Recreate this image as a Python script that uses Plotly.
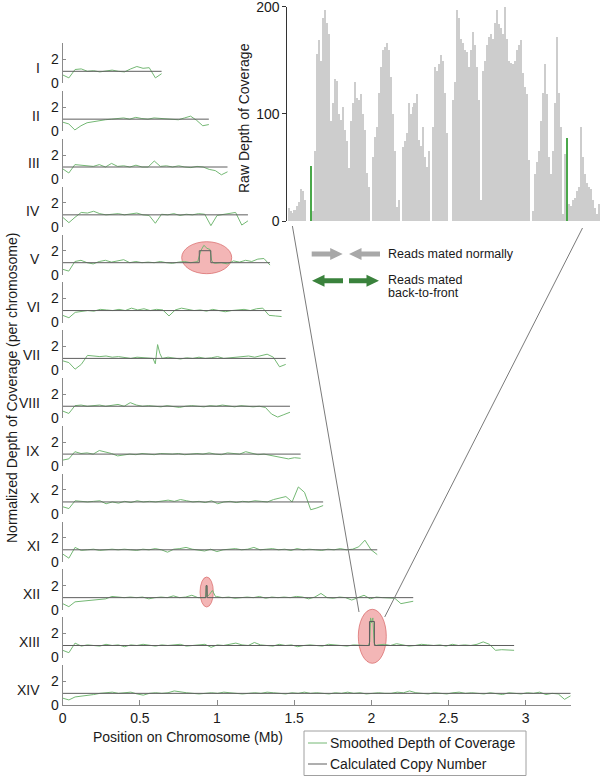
import numpy as np
import plotly.graph_objects as go

W, H = 600, 776
FONT = "Liberation Sans, Arial, sans-serif"


def fx(px):
    return px / W


def fy(py):
    return 1 - py / H


# ---------------- data: chromosomes ----------------
chrom_names = ["I", "II", "III", "IV", "V", "VI", "VII", "VIII", "IX", "X",
               "XI", "XII", "XIII", "XIV"]
chrom_lengths = [0.640851, 0.947102, 1.067971, 1.200490, 1.343557, 1.418242,
                 1.445207, 1.472805, 1.541735, 1.687656, 2.038340, 2.271494,
                 2.925236, 3.291936]

depth_I = [0.7, 0.45, 1.15, 1.2, 1.0, 1.05, 0.95, 1.0, 1.1, 1.0, 0.95, 1.2, 1.4,
           1.25, 1.3, 0.45, 0.8]
depth_II = [0.75, 0.6, 0.1, 0.45, 0.7, 0.8, 0.85, 0.95, 1.0, 1.05, 1.1, 1.0, 1.15,
            1.05, 1.0, 1.1, 1.05, 1.0, 1.0, 0.95, 1.1, 1.25, 0.9, 0.45, 0.55]
depth_III = [0.85, 0.5, 1.2, 1.15, 1.1, 1.05, 1.2, 1.0, 1.3, 1.05, 1.1, 1.0, 1.15,
             1.0, 1.0, 1.5, 1.05, 1.1, 1.0, 1.1, 1.0, 0.95, 1.05, 1.0, 0.8, 0.7,
             0.35, 0.6]
depth_IV = [0.8, 0.35, 0.8, 1.2, 1.15, 1.3, 1.1, 1.0, 1.05, 1.1, 1.0, 1.05, 1.15,
            1.0, 0.95, 0.3, 1.05, 1.0, 1.1, 0.95, 1.05, 1.0, 1.1, 1.05, 0.1, 0.95,
            1.05, 1.1, 1.2, 0.15, 0.5]
depth_V = [0.45, 0.3, 1.1, 1.2, 1.0, 0.9, 1.1, 1.2, 1.05, 1.15, 1.25, 1.0, 1.1,
           1.0, 1.05, 1.0, 1.1, 1.0, 0.95, 1.05, 1.1, 1.0, 1.05, 2.2, 2.1, 0.95,
           1.0, 0.9, 1.15, 1.05, 1.2, 1.1, 1.3, 1.35, 0.8]
depth_VI = [0.6, 0.4, 0.85, 0.9, 1.0, 0.95, 1.1, 1.05, 1.0, 1.1, 1.0, 1.2, 1.05,
            1.15, 1.0, 1.1, 1.05, 0.55, 1.05, 1.2, 1.1, 1.0, 1.05, 0.95, 1.1, 1.0,
            0.9, 1.0, 1.05, 1.1, 1.0, 1.15, 1.2, 0.6, 0.55, 0.5]
depth_VII = [0.8, 0.65, 0.1, 0.5, 1.25, 1.2, 1.15, 1.2, 1.1, 1.15, 1.05, 1.0, 1.1,
             1.05, 1.0, 0.9, 1.05, 1.1, 1.0, 0.95, 1.05, 1.0, 1.1, 1.0, 1.05, 1.15,
             1.0, 1.05, 1.1, 1.15, 1.2, 1.1, 1.25, 1.35, 1.1, 0.3, 0.5]
depth_VIII = [0.6, 0.4, 1.05, 1.1, 1.0, 1.05, 1.1, 1.0, 1.05, 1.15, 1.0, 1.3, 1.1,
              1.0, 1.05, 1.0, 0.95, 1.05, 1.0, 0.9, 1.0, 1.05, 1.0, 0.95, 1.05, 1.0,
              1.1, 1.0, 0.95, 1.05, 1.0, 0.95, 1.0, 0.9, 0.35, 0.1, 0.3, 0.5]
depth_IX = [0.5, 0.6, 1.2, 1.05, 1.1, 1.0, 1.3, 1.2, 1.05, 0.85, 0.9, 1.0, 0.95,
            1.05, 1.0, 0.95, 1.05, 1.0, 1.0, 1.05, 0.95, 1.0, 1.05, 1.0, 1.1, 1.0,
            0.95, 1.1, 1.05, 1.0, 1.2, 1.05, 0.95, 1.0, 0.9, 0.75, 0.65, 0.6, 0.7,
            0.65]
depth_X = [0.6, 0.45, 1.1, 1.05, 1.0, 1.05, 1.1, 0.85, 1.0, 0.9, 1.05, 0.95, 1.1,
           1.0, 1.05, 1.0, 1.1, 1.15, 1.05, 1.2, 1.1, 1.0, 1.05, 0.95, 1.1, 0.85,
           1.0, 1.05, 0.95, 1.05, 1.0, 1.1, 1.05, 1.0, 1.2, 1.3, 1.45, 1.0, 2.25,
           1.8, 0.35, 0.5, 0.7]
depth_XI = [0.65, 0.3, 1.2, 0.95, 1.0, 1.05, 0.95, 1.0, 1.05, 1.0, 1.05, 1.0, 0.95,
            1.05, 1.0, 1.1, 1.0, 0.8, 1.05, 1.1, 1.2, 1.05, 1.0, 0.9, 1.05, 0.85,
            1.0, 1.05, 1.1, 1.0, 1.05, 1.2, 1.0, 1.05, 1.1, 1.0, 1.05, 0.95, 1.1,
            1.0, 1.05, 1.0, 0.95, 1.05, 1.0, 1.1, 1.0, 1.05, 1.25, 1.8, 1.0, 0.6]
depth_XII = [0.5, 0.25, 0.65, 0.7, 0.75, 0.75, 0.85, 0.9, 1.1, 1.05, 1.0, 1.05,
             1.0, 1.05, 0.9, 1.0, 1.05, 1.0, 1.15, 1.0, 1.05, 1.2, 1.0, 1.0, 1.6,
             1.1, 1.0, 1.05, 0.95, 1.0, 1.05, 1.0, 1.1, 0.95, 1.05, 1.0, 1.05, 1.0,
             1.1, 1.05, 0.9, 1.05, 1.35, 1.0, 0.95, 1.05, 1.0, 0.8, 1.0, 1.2, 0.9,
             1.05, 1.0, 0.95, 0.95, 0.5, 0.6, 0.7]
depth_XIII = [0.6, 0.4, 1.2, 0.95, 1.05, 1.0, 0.95, 1.1, 1.0, 1.05, 0.9, 1.05, 1.0,
              1.1, 1.0, 0.95, 1.05, 1.0, 1.05, 1.1, 0.95, 1.0, 1.05, 1.1, 0.85,
              1.05, 1.0, 1.1, 1.2, 1.05, 1.0, 1.25, 1.05, 1.0, 0.95, 1.1, 1.0, 1.05,
              0.9, 1.0, 1.05, 1.0, 0.95, 1.1, 1.05, 1.0, 0.95, 1.05, 1.0, 1.0, 1.0,
              1.05, 1.1, 1.0, 1.15, 1.05, 0.95, 1.0, 1.1, 1.05, 1.0, 1.05, 0.95, 1.1,
              1.0, 1.05, 1.0, 1.1, 1.3, 1.1, 0.6, 0.65, 0.6, 0.6]
depth_XIV = [0.6, 0.45, 0.7, 0.75, 0.85, 0.9, 1.0, 1.05, 1.1, 1.0, 1.05, 1.1, 0.95,
             0.85, 1.0, 1.05, 1.0, 1.05, 1.2, 1.1, 1.05, 1.0, 0.95, 1.0, 1.05, 1.0,
             1.1, 1.05, 1.0, 0.95, 1.0, 1.05, 1.0, 1.1, 1.05, 1.0, 0.95, 1.05, 1.0,
             1.1, 1.0, 1.05, 1.0, 0.95, 1.05, 1.0, 1.1, 1.0, 1.05, 0.95, 1.0, 1.05,
             1.0, 1.0, 1.1, 1.05, 1.2, 1.05, 1.0, 0.95, 1.05, 1.0, 0.95, 1.05, 1.1,
             1.0, 1.05, 1.0, 0.95, 1.05, 1.0, 0.9, 1.05, 1.0, 0.95, 1.05, 1.0, 1.1,
             0.9, 1.0, 0.95, 0.5, 0.8]

smoothed_depth = [depth_I, depth_II, depth_III, depth_IV, depth_V, depth_VI,
                  depth_VII, depth_VIII, depth_IX, depth_X, depth_XI, depth_XII,
                  depth_XIII, depth_XIV]

# sharp local features read at finer resolution (chromosome index -> positions, values)
peak_V_pos = [0.875, 0.895, 0.915, 0.935, 0.955, 0.965, 0.975]
peak_V_val = [1.1, 2.0, 2.45, 2.2, 2.1, 1.2, 1.0]
peak_VII_pos = [0.585, 0.60, 0.615, 0.63, 0.645]
peak_VII_val = [1.0, 0.55, 2.15, 1.4, 1.0]
peak_XII_pos = [0.925, 0.932, 0.938, 0.95, 0.97, 0.99]
peak_XII_val = [1.0, 2.05, 1.1, 1.25, 1.6, 1.1]
peak_XIII_pos = [1.98, 1.99, 1.995, 2.002, 2.01, 2.018, 2.03]
peak_XIII_val = [1.0, 1.3, 3.3, 2.9, 3.3, 1.2, 1.0]
peaks = {4: (peak_V_pos, peak_V_val), 6: (peak_VII_pos, peak_VII_val),
         11: (peak_XII_pos, peak_XII_val), 12: (peak_XIII_pos, peak_XIII_val)}

# calculated copy number: baseline 1, amplified segments
amp_chrom = [4, 11, 12]
amp_start = [0.885, 0.929, 1.988]
amp_end = [0.960, 0.936, 2.020]
amp_level = [2, 2, 3]

# ---------------- data: inset raw coverage ----------------
raw_depth = [12, 10, 8, 11, 14, 18, 30, 28, 20, 0, 0, 0, 10, 66, 156, 169, 150,
             190, 197, 185, 175, 94, 110, 133, 131, 100, 95, 107, 85, 75, 50, 94,
             110, 130, 115, 113, 119, 100, 85, 45, 32, 0, 60, 79, 88, 120, 144,
             160, 163, 166, 160, 135, 100, 66, 13, 20, 0, 69, 75, 82, 110, 100,
             107, 110, 119, 76, 70, 88, 60, 51, 66, 0, 88, 144, 140, 147, 155, 150,
             120, 82, 0, 0,
             113, 130, 197, 190, 170, 166, 160, 158, 144, 160, 177, 165, 144, 113,
             20, 140, 150, 165, 172, 175, 170, 185, 197, 184, 180, 175, 200, 170,
             150, 148, 147, 150, 160, 165, 169, 138, 125, 119, 57, 0, 10, 44, 55,
             66, 94, 120, 147, 119, 60, 44, 66, 110, 172, 120, 88, 7, 63, 0, 16,
             14, 20, 22, 28, 32, 88, 60, 44, 36, 32, 30, 20, 12, 7, 16]
backfront_bin = [11, 139]
backfront_depth = [52, 78]

# ---------------- figure ----------------
GREEN = "#74b874"
CN = "#5e5e5e"
AX = "#8a8a8a"
TXT = "#1a1a1a"

fig = go.Figure()
layout = dict(width=W, height=H, autosize=False,
              margin=dict(l=0, r=0, t=0, b=0, pad=0, autoexpand=False),
              paper_bgcolor="white", plot_bgcolor="rgba(0,0,0,0)",
              showlegend=False, font=dict(family=FONT, size=14, color=TXT),
              bargap=0, barmode="overlay")

annotations = []
shapes = []

n = len(chrom_names)
for k in range(n):
    yname = "y" if k == 0 else f"y{k + 1}"
    ykey = "yaxis" if k == 0 else f"yaxis{k + 1}"
    L = chrom_lengths[k]
    vals = np.array(smoothed_depth[k], dtype=float)
    xs = np.linspace(0, L, len(vals))
    if k in peaks:
        pp, pv = peaks[k]
        keep = (xs < min(pp)) | (xs > max(pp))
        xs = np.concatenate([xs[keep], pp])
        vals = np.concatenate([vals[keep], pv])
        order = np.argsort(xs)
        xs, vals = xs[order], vals[order]
    fig.add_trace(go.Scatter(x=xs, y=vals, mode="lines", xaxis="x", yaxis=yname,
                             line=dict(color=GREEN, width=1),
                             name="Smoothed Depth of Coverage", hoverinfo="skip"))
    cx, cy = [0.0], [1]
    for c, s, e, lv in zip(amp_chrom, amp_start, amp_end, amp_level):
        if c == k:
            cx += [s, s, e, e]
            cy += [1, lv, lv, 1]
    cx.append(L)
    cy.append(1)
    fig.add_trace(go.Scatter(x=cx, y=cy, mode="lines", xaxis="x", yaxis=yname,
                             line=dict(color=CN, width=1),
                             name="Calculated Copy Number", hoverinfo="skip"))
    b = 83.3 + 47.85 * k
    layout[ykey] = dict(domain=[fy(b), fy(b - 3.35 * 12)], range=[0, 3.35],
                        anchor="x", tickvals=[0, 2], ticktext=["0", "2"],
                        ticks="inside", ticklen=3, tickcolor=AX,
                        showline=True, linecolor=AX, linewidth=1,
                        showgrid=False, zeroline=False, automargin=False,
                        ticklabeloverflow="allow",
                        tickfont=dict(size=14, color=TXT, family=FONT))
    annotations.append(dict(x=fx(42), y=1.3, xref="paper", yref=yname,
                            text=chrom_names[k], showarrow=False,
                            xanchor="right", yanchor="middle",
                            font=dict(size=14, color=TXT, family=FONT)))

layout["xaxis"] = dict(domain=[fx(62.7), fx(570.7)], range=[0, 3.292],
                       anchor="y14", tickvals=[0, 0.5, 1, 1.5, 2, 2.5, 3],
                       ticktext=["0", "0.5", "1", "1.5", "2", "2.5", "3"],
                       ticks="inside", ticklen=5, tickcolor=AX,
                       showline=True, linecolor=AX, linewidth=1,
                       showgrid=False, zeroline=False, automargin=False,
                       ticklabeloverflow="allow",
                       tickfont=dict(size=14, color=TXT, family=FONT))

# inset
fig.add_trace(go.Bar(x=np.arange(len(raw_depth)), y=raw_depth, width=1,
                     xaxis="x2", yaxis="y15",
                     marker=dict(color="#cdcdcd", line=dict(width=0)),
                     hoverinfo="skip"))
fig.add_trace(go.Bar(x=backfront_bin, y=backfront_depth, width=1,
                     xaxis="x2", yaxis="y15",
                     marker=dict(color="#4aa84a", line=dict(width=0)),
                     hoverinfo="skip"))
layout["xaxis2"] = dict(domain=[fx(287.3), 1.0], range=[-0.85, 155.5],
                        anchor="y15", visible=False, automargin=False)
layout["yaxis15"] = dict(domain=[fy(221), fy(6.7)], range=[0, 200], anchor="x2",
                         tickvals=[0, 100, 200], ticks="outside", ticklen=4,
                         tickcolor="#333", showline=True, linecolor="#333",
                         linewidth=1, showgrid=False, zeroline=False,
                         automargin=False, ticklabeloverflow="allow",
                         tickfont=dict(size=14, color=TXT, family=FONT))

# axis titles
annotations.append(dict(x=fx(244), y=fy(118), xref="paper", yref="paper",
                        text="Raw Depth of Coverage", textangle=-90,
                        xanchor="center", yanchor="middle",
                        showarrow=False, font=dict(size=14, color=TXT, family=FONT)))
annotations.append(dict(x=fx(12), y=fy(388), xref="paper", yref="paper",
                        text="Normalized Depth of Coverage (per chromosome)",
                        textangle=-90, xanchor="center", yanchor="middle",
                        showarrow=False,
                        font=dict(size=14, color=TXT, family=FONT)))
annotations.append(dict(x=fx(188), y=fy(737), xref="paper", yref="paper",
                        text="Position on Chromosome (Mb)", showarrow=False,
                        xanchor="center", yanchor="middle",
                        font=dict(size=14, color=TXT, family=FONT)))

# highlight ellipses
PINK_FILL = "rgba(232,110,110,0.5)"
PINK_LINE = "rgba(215,100,100,0.7)"
for (cxp, cyp, w, h) in [(206.7, 257.7, 50, 32), (206.7, 592, 13.3, 30),
                         (372.3, 636.3, 28, 54)]:
    shapes.append(dict(type="circle", xref="paper", yref="paper",
                       x0=fx(cxp - w / 2), x1=fx(cxp + w / 2),
                       y0=fy(cyp + h / 2), y1=fy(cyp - h / 2),
                       fillcolor=PINK_FILL, line=dict(color=PINK_LINE, width=1),
                       layer="below"))

# connector lines from inset to the XIII ellipse
for (x0, y0, x1, y1) in [(292.4, 226, 359.0, 612), (582.5, 228, 384.7, 617)]:
    shapes.append(dict(type="line", xref="paper", yref="paper",
                       x0=fx(x0), y0=fy(y0), x1=fx(x1), y1=fy(y1),
                       line=dict(color="#7a7a7a", width=1)))


def arrow(x_tail, x_head, yc, color):
    d = 1 if x_head > x_tail else -1
    neck = x_head - d * 12.5
    bh, hh = 2.5, 6
    pts = [(x_tail, yc - bh), (neck, yc - bh), (neck, yc - hh), (x_head, yc),
           (neck, yc + hh), (neck, yc + bh), (x_tail, yc + bh)]
    path = "M " + " L ".join(f"{fx(a):.5f},{fy(b):.5f}" for a, b in pts) + " Z"
    return dict(type="path", xref="paper", yref="paper", path=path,
                fillcolor=color, line=dict(width=0))


GRAY_ARROW = "#a8a8a8"
GREEN_ARROW = "#3a823c"
shapes += [arrow(311.7, 342.7, 254, GRAY_ARROW), arrow(380, 349, 254, GRAY_ARROW),
           arrow(343, 312, 280.7, GREEN_ARROW), arrow(349, 379, 280.7, GREEN_ARROW)]
annotations += [
    dict(x=fx(386), y=fy(254), xref="paper", yref="paper", text="Reads mated normally",
         showarrow=False, xanchor="left", yanchor="middle",
         font=dict(size=12.5, color=TXT, family=FONT)),
    dict(x=fx(386), y=fy(280), xref="paper", yref="paper", text="Reads mated",
         showarrow=False, xanchor="left", yanchor="middle",
         font=dict(size=12.5, color=TXT, family=FONT)),
    dict(x=fx(386), y=fy(293), xref="paper", yref="paper", text="back-to-front",
         showarrow=False, xanchor="left", yanchor="middle",
         font=dict(size=12.5, color=TXT, family=FONT)),
]

# legend box (drawn)
shapes.append(dict(type="rect", xref="paper", yref="paper",
                   x0=fx(304), x1=fx(526), y0=fy(775.5), y1=fy(731),
                   line=dict(color="#a0a0a0", width=1), fillcolor="white",
                   layer="below"))
for (yy, col, label) in [(743, GREEN, "Smoothed Depth of Coverage"),
                         (764, CN, "Calculated Copy Number")]:
    shapes.append(dict(type="line", xref="paper", yref="paper",
                       x0=fx(308), x1=fx(327), y0=fy(yy), y1=fy(yy),
                       line=dict(color=col, width=1)))
    annotations.append(dict(x=fx(328), y=fy(yy), xref="paper", yref="paper",
                            text=label, showarrow=False, xanchor="left",
                            yanchor="middle",
                            font=dict(size=14, color=TXT, family=FONT)))

layout["annotations"] = annotations
layout["shapes"] = shapes
fig.update_layout(**layout)
fig.write_html("out.html", config={"displayModeBar": False},
               post_script="document.body.style.margin='0';"
                           "document.body.style.overflow='hidden';")
